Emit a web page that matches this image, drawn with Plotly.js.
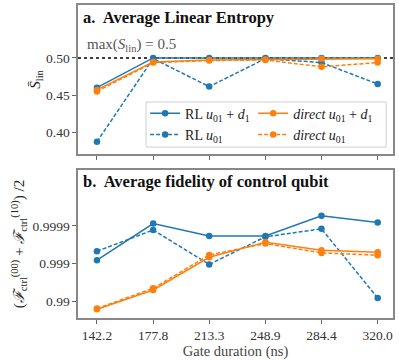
<!DOCTYPE html>
<html><head><meta charset="utf-8">
<script src="https://cdn.plot.ly/plotly-3.0.1.min.js"></script>
<style>body{margin:0;background:#fff}#plot{width:399px;height:361px}</style>
</head><body><div id="plot"></div>
<script>
const gateDurations = [142.2, 177.8, 213.3, 248.9, 284.4, 320.0];
const tickLabelsX = ['142.2', '177.8', '213.3', '248.9', '284.4', '320.0'];

// Panel a: average linear entropy
const entropyRL_u01_d1 = [0.460, 0.500, 0.500, 0.500, 0.500, 0.500];
const entropyRL_u01 = [0.3875, 0.499, 0.4615, 0.499, 0.4937, 0.465];
const entropyDirect_u01_d1 = [0.457, 0.4946, 0.4973, 0.498, 0.499, 0.499];
const entropyDirect_u01 = [0.455, 0.4937, 0.4964, 0.4973, 0.488, 0.4937];

// Panel b: average infidelity (1 - F) of control qubit
const infidRL_u01_d1 = [8.1e-4, 8.7e-5, 1.86e-4, 1.86e-4, 5.4e-5, 8.1e-5];
const infidRL_u01 = [4.7e-4, 1.29e-4, 1.05e-3, 1.95e-4, 1.2e-4, 8.1e-3];
const infidDirect_u01_d1 = [1.62e-2, 5.0e-3, 6.8e-4, 2.7e-4, 4.4e-4, 5.0e-4];
const infidDirect_u01 = [1.55e-2, 4.5e-3, 5.9e-4, 2.95e-4, 5.2e-4, 6.0e-4];
const fidTickVals = [1e-2, 1e-3, 1e-4];
const fidTickText = ['0.99', '0.999', '0.9999'];

const seriesNames = ['RL <i>u</i><sub>01</sub> + <i>d</i><sub>1</sub>', 'RL <i>u</i><sub>01</sub>',
  '<i>direct u</i><sub>01</sub> + <i>d</i><sub>1</sub>', '<i>direct u</i><sub>01</sub>'];

const blue = '#1f77b4', orange = '#ff7f0e';
const styles = [
  {color: blue, dash: 'solid', legend: 'legend'},
  {color: blue, dash: '4px,2px', legend: 'legend'},
  {color: orange, dash: 'solid', legend: 'legend2'},
  {color: orange, dash: '4px,2px', legend: 'legend2'}
];
const topSeries = [entropyRL_u01_d1, entropyRL_u01, entropyDirect_u01_d1, entropyDirect_u01];
const botSeries = [infidRL_u01_d1, infidRL_u01, infidDirect_u01_d1, infidDirect_u01];

const traces = [];
topSeries.forEach((ys, i) => {
  traces.push({x: gateDurations, y: ys, xaxis: 'x', yaxis: 'y', mode: 'lines+markers',
    name: seriesNames[i], legend: styles[i].legend,
    line: {color: styles[i].color, dash: styles[i].dash, width: 1.5},
    marker: {color: styles[i].color, size: 6.5}});
});
botSeries.forEach((ys, i) => {
  traces.push({x: gateDurations, y: ys, xaxis: 'x2', yaxis: 'y2', mode: 'lines+markers',
    name: seriesNames[i], showlegend: false,
    line: {color: styles[i].color, dash: styles[i].dash, width: 1.5},
    marker: {color: styles[i].color, size: 6.5}});
});

const FAM = 'Liberation Serif, Times New Roman, serif';
const font = {family: FAM, size: 13, color: '#222'};
const frame = {showline: true, mirror: true, linecolor: '#888', linewidth: 1.6,
  showgrid: false, zeroline: false, ticks: 'outside', ticklen: 4, tickcolor: '#666', tickwidth: 1,
  tickfont: {family: FAM, size: 13.5, color: '#333'}};
const xr = [130.2, 329.7];
const legendCommon = {orientation: 'v', xanchor: 'left', yanchor: 'top', bgcolor: 'rgba(0,0,0,0)',
  borderwidth: 0, font: {family: FAM, size: 14, color: '#222'}, tracegroupgap: 0};

const layout = {
  width: 399, height: 361,
  margin: {l: 78, r: 6, t: 5, b: 43},
  paper_bgcolor: '#fff', plot_bgcolor: '#fff',
  font: font,
  xaxis: Object.assign({}, frame, {domain: [0, 1], range: xr, tickvals: gateDurations,
    showticklabels: false, anchor: 'y'}),
  yaxis: Object.assign({}, frame, {domain: [0.524, 1], range: [0.371, 0.571],
    tickvals: [0.40, 0.45, 0.50], ticktext: ['0.40', '0.45', '0.50'], anchor: 'x',
    title: {text: '<i>S̄</i><sub>lin</sub>', standoff: 2, font: {family: FAM, size: 15, color: '#222'}}}),
  xaxis2: Object.assign({}, frame, {domain: [0, 1], range: xr, tickvals: gateDurations,
    ticktext: tickLabelsX, anchor: 'y2',
    title: {text: 'Gate duration (ns)', standoff: 0, font: {family: FAM, size: 14.5, color: '#444'}}}),
  yaxis2: Object.assign({}, frame, {domain: [0, 0.473], type: 'log', range: [-1.56, -5.48],
    tickvals: fidTickVals, ticktext: fidTickText, anchor: 'x2',
    title: {text: '(<i>ℱ</i><sub>ctrl</sub><sup>(00)</sup> + <i>ℱ</i><sub>ctrl</sub><sup>(10)</sup>) /2',
      standoff: 4, font: {family: FAM, size: 15, color: '#222'}}}),
  legend: Object.assign({}, legendCommon, {x: 0.213, y: 0.704}),
  legend2: Object.assign({}, legendCommon, {x: 0.556, y: 0.704}),
  shapes: [
    {type: 'line', xref: 'x domain', yref: 'y', x0: 0, x1: 1, y0: 0.5, y1: 0.5,
      line: {color: '#000', width: 1.5, dash: 'dot'}, layer: 'below'},
    {type: 'rect', xref: 'paper', yref: 'paper', x0: 0.216, x1: 0.978, y0: 0.546, y1: 0.690,
      line: {color: '#d0d0d0', width: 1}, fillcolor: 'rgba(255,255,255,0.85)', layer: 'above'}
  ],
  annotations: [
    {xref: 'x domain', yref: 'y domain', x: 0.008, y: 0.99, xanchor: 'left', yanchor: 'top',
      showarrow: false, text: '<b>a.  Average Linear Entropy</b>', font: {family: FAM, size: 16.5, color: '#111'}},
    {xref: 'x2 domain', yref: 'y2 domain', x: 0.008, y: 1.0, xanchor: 'left', yanchor: 'top',
      showarrow: false, text: '<b>b.  Average fidelity of control qubit</b>', font: {family: FAM, size: 16.5, color: '#111'}},
    {xref: 'x domain', yref: 'y', x: 0.022, y: 0.5, xanchor: 'left', yanchor: 'bottom', yshift: 2,
      showarrow: false, text: 'max(<i>S</i><sub>lin</sub>) = 0.5', font: {family: FAM, size: 15, color: '#555'}}
  ]
};

Plotly.newPlot('plot', traces, layout, {displayModeBar: false, staticPlot: true});
</script></body></html>
